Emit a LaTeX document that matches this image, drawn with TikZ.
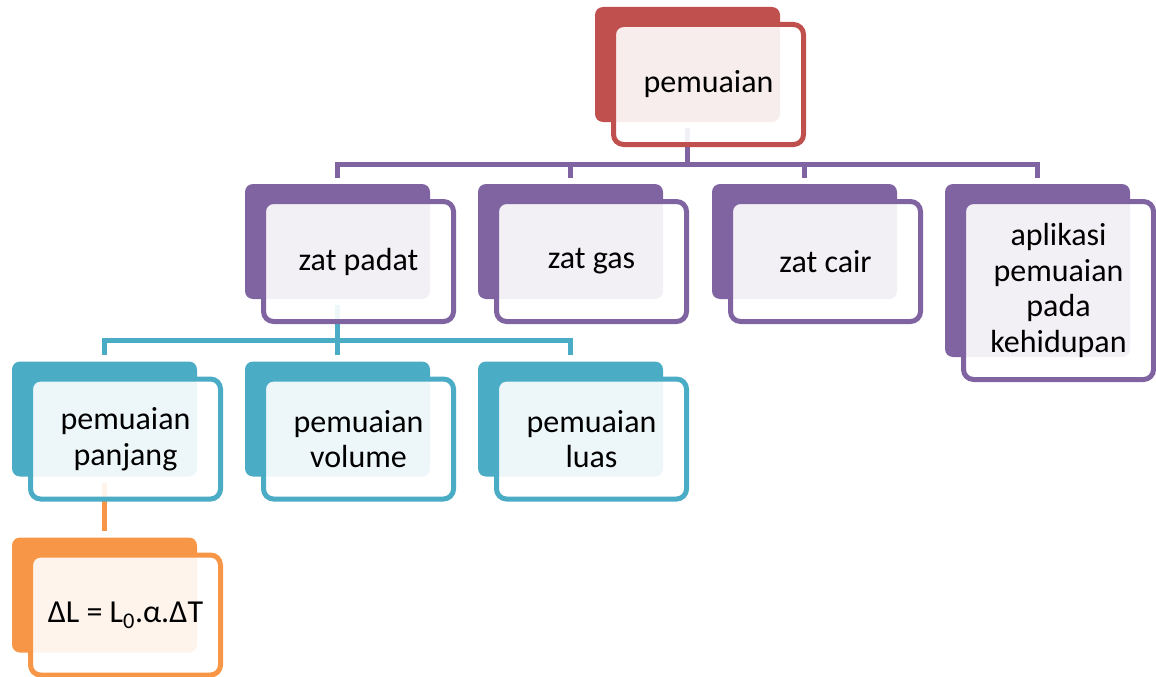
\documentclass[tikz,border=0pt]{standalone}
\usepackage{fontspec}
\setmainfont{Carlito}
\definecolor{redA}{HTML}{C0504D}
\definecolor{purpleA}{HTML}{8064A2}
\definecolor{blueA}{HTML}{4BACC6}
\definecolor{orangeA}{HTML}{F79646}

\begin{document}
\begin{tikzpicture}[x=1pt,y=-1pt,
    back/.style={fill=#1,rounded corners=8pt,minimum width=185pt,
      minimum height=115pt,inner sep=0pt},
    front/.style={draw=#1,line width=5pt,fill=white,fill opacity=0.9,
      text opacity=1,rounded corners=10pt,minimum width=190pt,
      minimum height=120pt,align=center,xshift=21pt,yshift=-20pt,
      font=\fontsize{32}{35.5}\selectfont},
    link/.style={draw=#1,line width=5pt,shorten <=6pt,shorten >=6pt}]
        \useasboundingbox (0,0) rectangle (1156,677);

        % coloured back plates
        \node[back=redA]    (root-b)    at (687.5,64.5) {};
        \node[back=purpleA] (padat-b)   at (337.5,241.5) {};
        \node[back=purpleA] (gas-b)     at (570.5,241.5) {};
        \node[back=purpleA] (cair-b)    at (804.5,241.5) {};
        \node[back=purpleA,minimum height=173pt] (apl-b) at (1037.5,270.5) {};
        \node[back=blueA]   (panjang-b) at (104.5,419) {};
        \node[back=blueA]   (volume-b)  at (337.5,419) {};
        \node[back=blueA]   (luas-b)    at (570.5,419) {};
        \node[back=orangeA] (rumus-b)   at (104.5,595) {};

        % connectors
        \foreach \c in {padat,gas,cair,apl}
            \draw[link=purpleA] (root-b.south) -- ++(0,42) -| (\c-b.north);
        \foreach \c in {panjang,volume,luas}
            \draw[link=blueA] (padat-b.south) -- ++(0,41) -| (\c-b.north);
        \draw[link=orangeA] (panjang-b) -- (rumus-b);

        % framed front boxes
        \node[front=redA]    (root)    at (root-b)    {pemuaian};
        \node[front=purpleA] (padat)   at (padat-b)   {zat padat};
        \node[front=purpleA] (gas)     at (gas-b)     {zat gas};
        \node[front=purpleA] (cair)    at (cair-b)    {zat cair};
        \node[front=purpleA,minimum height=178pt] (apl) at (apl-b)
            {aplikasi\\pemuaian\\pada\\kehidupan};
        \node[front=blueA]   (panjang) at (panjang-b) {pemuaian\\panjang};
        \node[front=blueA]   (volume)  at (volume-b)  {pemuaian\\volume};
        \node[front=blueA]   (luas)    at (luas-b)    {pemuaian\\luas};
        \node[front=orangeA] (rumus)   at (rumus-b)   {ΔL = L\textsubscript{0}.α.ΔT};
\end{tikzpicture}
\end{document}
